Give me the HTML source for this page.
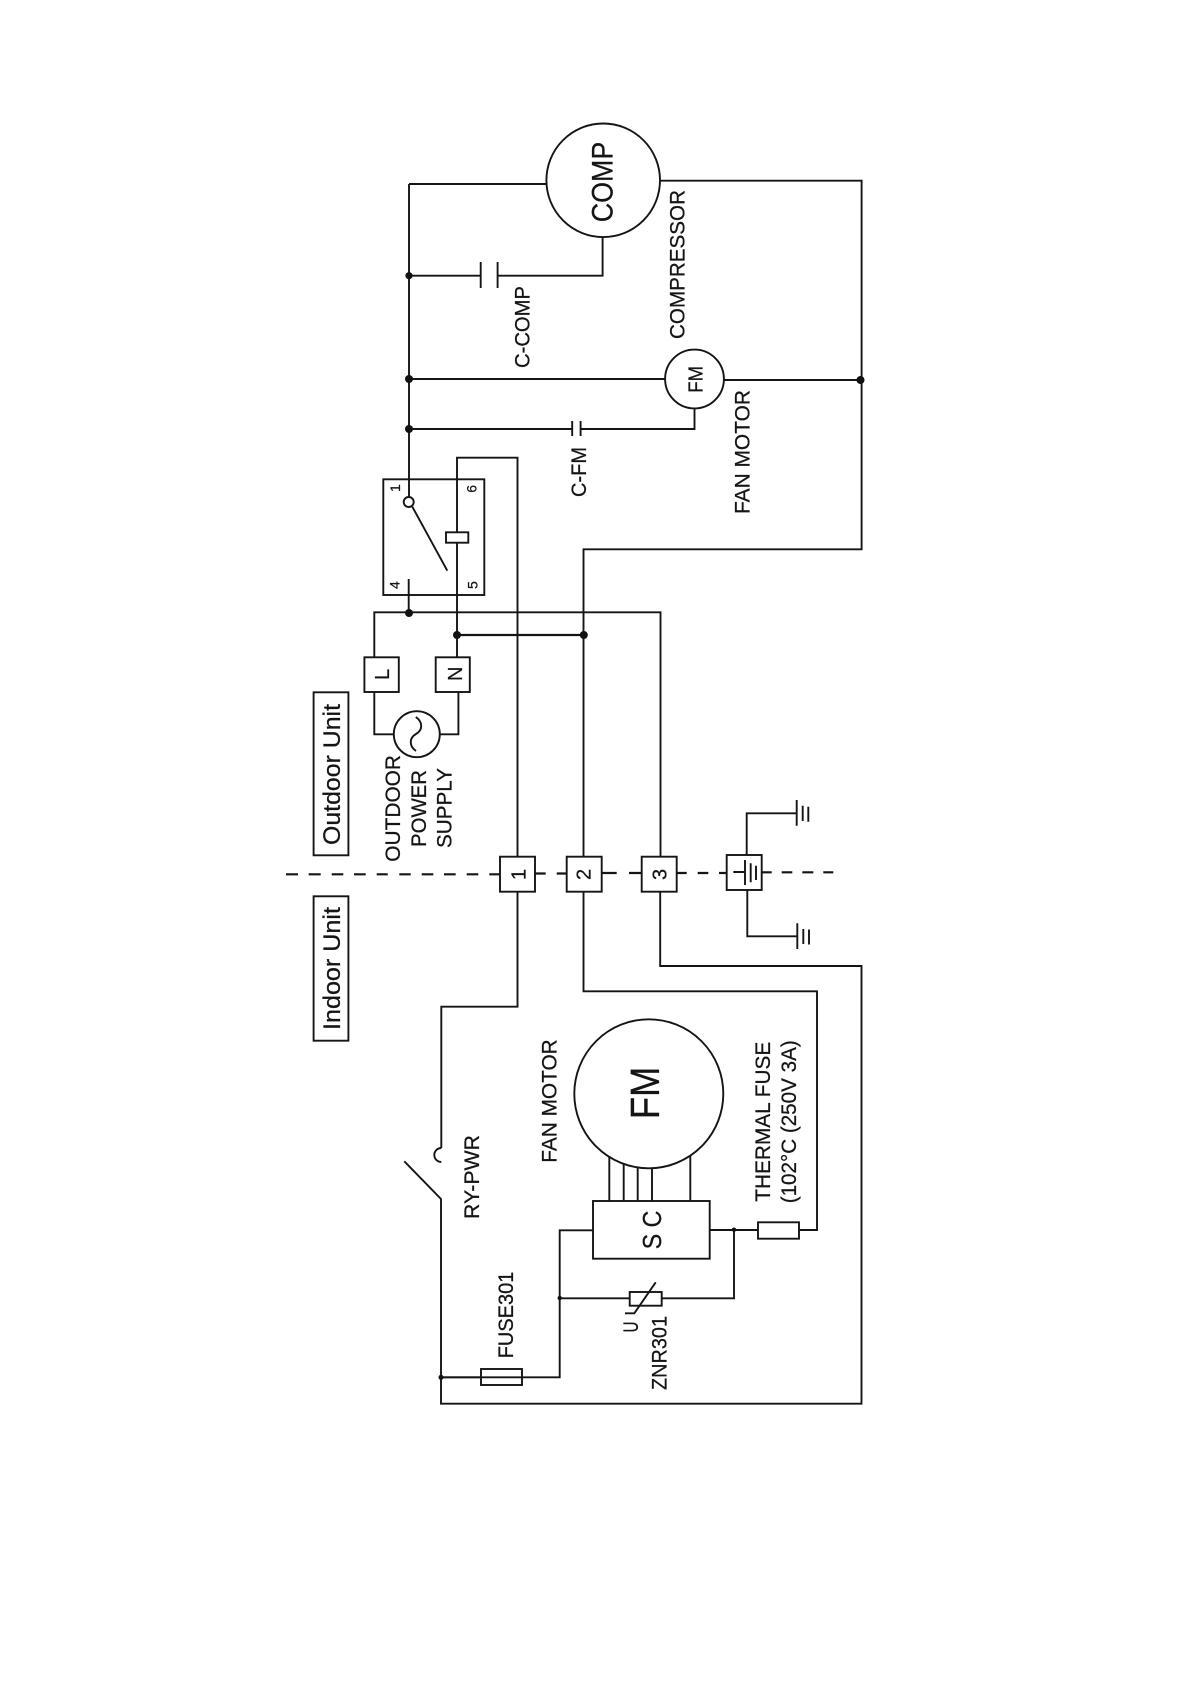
<!DOCTYPE html>
<html><head><meta charset="utf-8"><style>
html,body{margin:0;padding:0;background:#fff}
svg{display:block}
text{font-family:"Liberation Sans",Arial,sans-serif;fill:#151515;stroke:#151515;stroke-width:.25}
.w{fill:none;stroke:#151515;stroke-width:1.9}
</style></head><body>
<svg width="1190" height="1684" viewBox="0 0 1190 1684" xmlns="http://www.w3.org/2000/svg">
<rect width="1190" height="1684" fill="#fff"/>
<g class="w">
<!-- dashed division -->
<path d="M286 874.3H298M308.7 874.3H320.7M331.7 874.3H343.3M354 874.3H365.7M376.7 874.3H387.7M399.3 874.3H410.7M421.7 874.3H433.3M444 874.3H455.7M466.7 874.3H478.3M489.3 874.3H500M535 873.5H545.7M556.7 873.5H566.7M601.7 873H616.7M629 873H641.7M676.7 873H686.7M697.7 873H708.3M719 873H726.7M761.7 872.3H771.7M781.7 872.3H792.3M802.3 872.3H813.3M823.3 872.3H833.3" stroke-width="2.2"/>
<!-- main bus -->
<path d="M409 184V497M409 184H546.3"/>
<path d="M660.7 180.7H861.6V549.3H583.5V856.7"/>
<path d="M409 275.7H480.7M497.6 275.7H602.6V237"/>
<path d="M480.7 262V288M497.6 262V288"/>
<path d="M409 379H665.7M723.3 380H861.6"/>
<path d="M409 429H572.2M580.6 429H694.5V408.7"/>
<path d="M572.2 421V436M580.6 421V436"/>
<circle cx="603.2" cy="180.3" r="56.8"/>
<circle cx="694.5" cy="379" r="29.4"/>
<!-- relay -->
<rect x="383.3" y="479.3" width="101" height="115.7"/>
<circle cx="408.7" cy="502" r="5"/>
<path d="M412.3 506.7L447.3 570.7"/>
<path d="M517.5 856.7V457.7H457V635M457 635V657.3"/>
<rect x="446" y="532.3" width="22.3" height="10.4" fill="#fff"/>
<path d="M408.7 579V612.3"/>
<path d="M374.3 657.3V612.3H660.5V856.7"/>
<path d="M457 635H583.5" stroke-width="2.2"/>
<!-- L N -->
<rect x="364.4" y="657.3" width="34.4" height="34.7"/>
<rect x="435.7" y="657.3" width="34.1" height="34.7"/>
<path d="M374.3 692V734.3H393.8M439.9 734.3H458.4V692"/>
<circle cx="416.8" cy="734.2" r="23"/>
<path d="M415.8 717C423 722 423 730 416 734C409 738 409 746 416 751"/>
<!-- outer labels -->
<rect x="313.6" y="692.3" width="34.8" height="163"/>
<rect x="313.6" y="896.3" width="34.8" height="144.4"/>
<!-- terminals -->
<rect x="500" y="856.7" width="35" height="35"/>
<rect x="566.7" y="856.7" width="35" height="35"/>
<rect x="641.7" y="856.7" width="35" height="35"/>
<rect x="726.7" y="855" width="35" height="35"/>
<path d="M733.3 872H745M745 860V885M750.7 863.3V882.3M756 865.7V880"/>
<path d="M746.7 855V813.3H796.7M796.7 800V825.7M802.7 805.7V821M808.3 806.7V821.7"/>
<path d="M747.3 890V936.3H797.3M797.3 923.3V949M803.3 929V944M809 929.5V944.5"/>
<!-- indoor wiring -->
<path d="M517.5 891.7V1006.7H441.3V1148"/>
<path d="M441.3 1148A7 7 0 0 0 441.3 1162"/>
<path d="M404.3 1161.3L441 1199V1403.7H861.5V966H660.2V891.7"/>
<path d="M583.5 891.7V991.3H817V1230H709.7"/>
<path d="M441 1377.3H559.7V1230.3H593"/>
<rect x="481" y="1369" width="41" height="16" fill="#fff"/>
<path d="M441 1377.3H522"/>
<rect x="593" y="1201" width="116.7" height="57.7"/>
<rect x="758" y="1222.3" width="41" height="16.4" fill="#fff"/>
<path d="M734 1230V1298.3H661.7M629.7 1298.3H559.7"/>
<rect x="629.7" y="1292" width="32" height="13.7"/>
<path d="M655.7 1282.3L634.3 1313.3H625"/>
<circle cx="648.8" cy="1093.8" r="74.5"/>
<path d="M609.3 1201V1157M623.7 1201V1164M637.7 1201V1167.5M652 1201V1168.2M690.3 1201V1155.7"/>
</g>
<g fill="#111">
<circle cx="409" cy="275.7" r="3.6"/>
<circle cx="409" cy="379" r="4"/>
<circle cx="409" cy="429" r="4"/>
<circle cx="860.5" cy="380" r="4"/>
<circle cx="409" cy="613" r="4"/>
<circle cx="457" cy="635" r="4"/>
<circle cx="583.8" cy="635" r="4"/>
<circle cx="441" cy="1377.3" r="2.5"/>
<circle cx="734" cy="1229.7" r="2.2"/>
<circle cx="559.7" cy="1298" r="2.2"/>
</g>
<g>
<text transform="translate(612.5 222.3) rotate(-90)" font-size="30" textLength="80.6" lengthAdjust="spacingAndGlyphs">COMP</text>
<text transform="translate(529.4 368) rotate(-90)" font-size="21" textLength="82" lengthAdjust="spacingAndGlyphs">C-COMP</text>
<text transform="translate(684.6 339) rotate(-90)" font-size="21" textLength="149" lengthAdjust="spacingAndGlyphs">COMPRESSOR</text>
<text transform="translate(702.5 392.7) rotate(-90)" font-size="20" textLength="26.7" lengthAdjust="spacingAndGlyphs">FM</text>
<text transform="translate(586.1 497) rotate(-90)" font-size="21" textLength="50" lengthAdjust="spacingAndGlyphs">C-FM</text>
<text transform="translate(749.7 514) rotate(-90)" font-size="21" textLength="124" lengthAdjust="spacingAndGlyphs">FAN MOTOR</text>
<text transform="translate(400 492) rotate(-90)" font-size="14">1</text>
<text transform="translate(476.7 492.7) rotate(-90)" font-size="14">6</text>
<text transform="translate(399.3 589) rotate(-90)" font-size="14">4</text>
<text transform="translate(477.3 589) rotate(-90)" font-size="14">5</text>
<text transform="translate(388.8 680) rotate(-90)" font-size="20">L</text>
<text transform="translate(461.8 681) rotate(-90)" font-size="20">N</text>
<text transform="translate(339.9 845) rotate(-90)" font-size="24" textLength="141" lengthAdjust="spacingAndGlyphs">Outdoor Unit</text>
<text transform="translate(339.9 1030) rotate(-90)" font-size="24" textLength="123" lengthAdjust="spacingAndGlyphs">Indoor Unit</text>
<text transform="translate(400.2 861.7) rotate(-90)" font-size="21" textLength="106.7" lengthAdjust="spacingAndGlyphs">OUTDOOR</text>
<text transform="translate(426 847) rotate(-90)" font-size="21" textLength="77" lengthAdjust="spacingAndGlyphs">POWER</text>
<text transform="translate(451.5 848) rotate(-90)" font-size="21" textLength="80" lengthAdjust="spacingAndGlyphs">SUPPLY</text>
<text transform="translate(525.4 880) rotate(-90)" font-size="20">1</text>
<text transform="translate(590.6 880) rotate(-90)" font-size="20">2</text>
<text transform="translate(666.4 880) rotate(-90)" font-size="20">3</text>
<text transform="translate(659 1119.3) rotate(-90)" font-size="41" textLength="52.7" lengthAdjust="spacingAndGlyphs">FM</text>
<text transform="translate(661 1249.3) rotate(-90)" font-size="26" textLength="38.6" lengthAdjust="spacingAndGlyphs">S C</text>
<text transform="translate(556.7 1162.7) rotate(-90)" font-size="21" textLength="123.4" lengthAdjust="spacingAndGlyphs">FAN MOTOR</text>
<text transform="translate(479 1219) rotate(-90)" font-size="21" textLength="84" lengthAdjust="spacingAndGlyphs">RY-PWR</text>
<text transform="translate(513 1358.3) rotate(-90)" font-size="21" textLength="86.6" lengthAdjust="spacingAndGlyphs">FUSE301</text>
<text transform="translate(638 1332.5) rotate(-90)" font-size="21" textLength="11" lengthAdjust="spacingAndGlyphs">U</text>
<text transform="translate(666.7 1390) rotate(-90)" font-size="21" textLength="74" lengthAdjust="spacingAndGlyphs">ZNR301</text>
<text transform="translate(770 1201.7) rotate(-90)" font-size="21" textLength="160" lengthAdjust="spacingAndGlyphs">THERMAL FUSE</text>
<text transform="translate(796 1203.3) rotate(-90)" font-size="21" textLength="163" lengthAdjust="spacingAndGlyphs">(102°C (250V 3A)</text>
</g>
</svg>
</body></html>
